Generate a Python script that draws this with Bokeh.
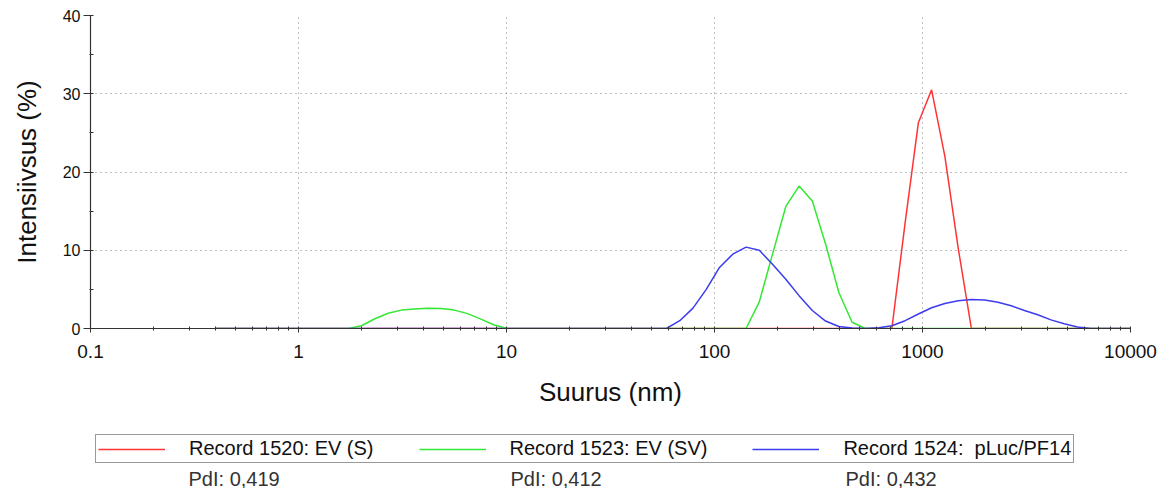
from bokeh.plotting import figure
from bokeh.layouts import column
from bokeh.models import (Range1d, FixedTicker, SingleIntervalTicker, CustomJSTickFormatter,
                          Legend, LegendItem, Label)
from bokeh.embed import file_html
from bokeh.resources import INLINE

# ---- data (Malvern size classes, nm) ----
size_nm = [0.4, 0.4632, 0.5365, 0.6213, 0.7195, 0.8332, 0.9649, 1.117, 1.294, 1.499,
           1.736, 2.01, 2.328, 2.696, 3.122, 3.615, 4.187, 4.849, 5.615, 6.503,
           7.531, 8.721, 10.1, 11.7, 13.54, 15.69, 18.17, 21.04, 24.36, 28.21,
           32.67, 37.84, 43.82, 50.75, 58.77, 68.06, 78.82, 91.28, 105.7, 122.4,
           141.8, 164.2, 190.1, 220.2, 255.0, 295.3, 342.0, 396.1, 458.7, 531.2,
           615.1, 712.4, 825.0, 955.4, 1106, 1281, 1484, 1718, 1990, 2305,
           2669, 3091, 3580, 4145, 4801, 5560, 6439, 7456, 8635, 10000]

record_1520 = [0, 0, 0, 0, 0, 0, 0, 0, 0, 0,
               0, 0, 0, 0, 0, 0, 0, 0, 0, 0,
               0, 0, 0, 0, 0, 0, 0, 0, 0, 0,
               0, 0, 0, 0, 0, 0, 0, 0, 0, 0,
               0, 0, 0, 0, 0, 0, 0, 0, 0, 0,
               0, 0, 13.5, 26.3, 30.5, 22.0, 10.3, 0, 0, 0,
               0, 0, 0, 0, 0, 0, 0, 0, 0, 0]

record_1523 = [0, 0, 0, 0, 0, 0, 0, 0, 0, 0,
               0, 0.35, 1.25, 1.95, 2.35, 2.5, 2.6, 2.55, 2.35, 1.9,
               1.2, 0.45, 0, 0, 0, 0, 0, 0, 0, 0,
               0, 0, 0, 0, 0, 0, 0, 0, 0, 0,
               0, 3.4, 9.5, 15.6, 18.2, 16.3, 10.8, 4.6, 0.8, 0,
               0, 0, 0, 0, 0, 0, 0, 0, 0, 0,
               0, 0, 0, 0, 0, 0, 0, 0, 0, 0]

record_1524 = [0, 0, 0, 0, 0, 0, 0, 0, 0, 0,
               0, 0, 0, 0, 0, 0, 0, 0, 0, 0,
               0, 0, 0, 0, 0, 0, 0, 0, 0, 0,
               0, 0, 0, 0, 0, 1.0, 2.6, 5.0, 7.8, 9.5,
               10.4, 10.0, 8.2, 6.3, 4.2, 2.3, 0.95, 0.25, 0.05, 0,
               0.1, 0.35, 1.0, 1.85, 2.65, 3.2, 3.55, 3.7, 3.65, 3.35,
               2.9, 2.3, 1.75, 1.1, 0.6, 0.2, 0, 0, 0, 0]

series_labels = ["Record 1520: EV (S)", "Record 1523: EV (SV)", "Record 1524:  pLuc/PF14"]
pdi_labels = ["PdI: 0,419", "PdI: 0,412", "PdI: 0,432"]
series_colors = ["#ff3333", "#33e833", "#3c3cee"]

x_ticks = [0.1, 1, 10, 100, 1000, 10000]
x_tick_labels = ["0.1", "1", "10", "100", "1000", "10000"]
x_minor = [0.2, 0.3, 0.4, 0.5, 0.6, 0.7, 0.8, 0.9,
           2, 3, 4, 5, 6, 7, 8, 9,
           20, 30, 40, 50, 60, 70, 80, 90,
           200, 300, 400, 500, 600, 700, 800, 900,
           2000, 3000, 4000, 5000, 6000, 7000, 8000, 9000]

FONT = "Liberation Sans"
W = 1163
H_MAIN = 420
H_LEG = 68
BL, BR = 90, 33

p = figure(width=W, height=H_MAIN, x_axis_type="log",
           x_range=Range1d(0.1, 10000), y_range=Range1d(0, 40),
           output_backend="svg", toolbar_location=None,
           min_border_left=BL, min_border_right=BR, min_border_top=15, min_border_bottom=92)
p.outline_line_color = None
p.background_fill_color = "white"
p.border_fill_color = "white"

for vals, col in zip([record_1520, record_1523, record_1524], series_colors):
    p.line(size_nm, vals, line_color=col, line_width=1.5)

# axes
p.xaxis.ticker = FixedTicker(ticks=x_ticks, minor_ticks=x_minor)
p.xaxis.formatter = CustomJSTickFormatter(args=dict(tick_vals=x_ticks, tick_texts=x_tick_labels), code="""
let k = -1;
for (let j = 0; j < tick_vals.length; j++) {
  if (Math.abs(Math.log10(tick_vals[j]) - Math.log10(tick)) < 1e-6) { k = j; }
}
return k >= 0 ? tick_texts[k] : '';
""")
p.yaxis.ticker = SingleIntervalTicker(interval=10, num_minor_ticks=2)

for ax in (p.xaxis[0], p.yaxis[0]):
    ax.axis_line_color = "#333333"
    ax.axis_line_width = 1.2
    ax.major_tick_line_color = "#333333"
    ax.minor_tick_line_color = "#333333"
    ax.major_label_text_font = FONT
    ax.major_label_text_color = "#111111"
    ax.axis_label_text_font = FONT
    ax.axis_label_text_font_style = "normal"
    ax.axis_label_text_font_size = "26px"
    ax.axis_label_text_color = "#111111"

p.xaxis.axis_label = "Suurus (nm)"
p.yaxis.axis_label = "Intensiivsus (%)"
p.xaxis.major_label_text_font_size = "19px"
p.yaxis.major_label_text_font_size = "16px"
p.xaxis.major_tick_in = 2
p.xaxis.major_tick_out = 4
p.xaxis.minor_tick_in = 2
p.xaxis.minor_tick_out = 2
p.xaxis.major_label_standoff = 12
p.xaxis.axis_label_standoff = 16
p.yaxis.major_tick_in = 0
p.yaxis.major_tick_out = 7
p.yaxis.minor_tick_in = 3
p.yaxis.minor_tick_out = 1
p.yaxis.major_label_standoff = 3
p.yaxis.axis_label_standoff = 18

for g in (p.xgrid[0], p.ygrid[0]):
    g.grid_line_color = "#808080"
    g.grid_line_dash = "1 4"
    g.grid_line_width = 1

# ---- legend strip below the chart (ranges equal to page pixels, y downwards) ----
lg = figure(width=W, height=H_LEG, x_range=Range1d(BL, W - BR), y_range=Range1d(H_LEG, 0),
            output_backend="svg", toolbar_location=None,
            min_border_left=BL, min_border_right=BR, min_border_top=0, min_border_bottom=0)
lg.axis.visible = False
lg.grid.visible = False
lg.outline_line_color = None
lg.background_fill_color = "white"
lg.border_fill_color = "white"

nan = float("nan")
leg_renderers = [lg.line([nan], [nan], line_color=col, line_width=1.5) for col in series_colors]
legend = Legend(items=[LegendItem(label=lab, renderers=[r]) for lab, r in zip(series_labels, leg_renderers)],
                orientation="horizontal", location=(5, 25),
                label_text_font=FONT, label_text_font_size="20px", label_text_color="#111111",
                glyph_width=67, glyph_height=20, label_standoff=24, spacing=45,
                padding=2, margin=0, border_line_color="#333333", border_line_width=1,
                background_fill_color="white", background_fill_alpha=1)
lg.add_layout(legend)

pdi_x = [188, 510, 845]
for lab, xs in zip(pdi_labels, pdi_x):
    lg.add_layout(Label(x=xs, y=58, text=lab,
                        text_font=FONT, text_font_size="20px", text_color="#333333",
                        text_baseline="middle", text_align="left"))

layout = column(p, lg, spacing=0)
open("out.html", "w").write(file_html(layout, INLINE))
